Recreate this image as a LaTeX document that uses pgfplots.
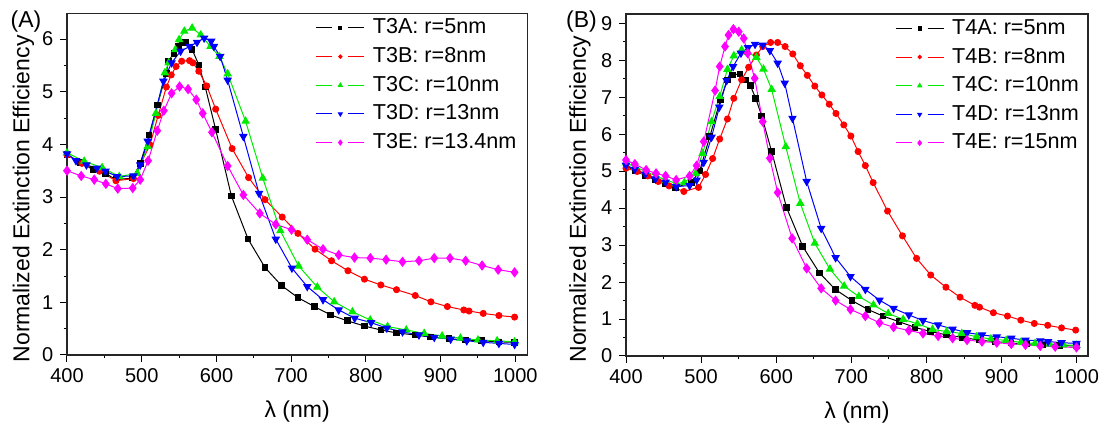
\documentclass[border=0pt]{standalone}
\usepackage{pgfplots}
\pgfplotsset{compat=1.18}
\usepackage{fontspec}
\setmainfont{Liberation Sans}
\definecolor{cblack}{RGB}{0,0,0}
\definecolor{cred}{RGB}{255,0,0}
\definecolor{cgreen}{RGB}{0,235,0}
\definecolor{cblue}{RGB}{0,0,255}
\definecolor{cmag}{RGB}{255,0,255}
\begin{document}
\begin{tikzpicture}
\useasboundingbox (0pt,0pt) rectangle (552.5pt,213.5pt);
\pgfplotsset{
  myaxis/.style={
    scale only axis, anchor=south west,
    xmin=400, ymin=0,
    xtick={400,500,...,1000},
    minor x tick num=1, minor y tick num=1,
    xtick pos=bottom, ytick pos=left,
    tick align=outside,
    major tick length=3.3pt, minor tick length=1.7pt,
    tick style={black, line width=0.5pt},
    axis line style={black!85, line width=0.6pt},
    ticklabel style={font=\fontsize{10}{12}\selectfont},
    /pgf/number format/assume math mode=true,
    /pgf/number format/1000 sep={},
    xlabel={λ (nm)}, ylabel={Normalized Extinction Efficiency},
    label style={font=\fontsize{11.5}{13}\selectfont},
    xlabel style={at={(axis description cs:0.5,-0.166)}, anchor=center},
    every axis plot/.append style={line width=0.5pt, mark options={solid}},
    legend style={draw=none, fill=none, font=\fontsize{10.8}{13}\selectfont,
      anchor=north east, inner sep=0pt, row sep=5.3pt,
      nodes={inner sep=0pt},
      /tikz/every odd column/.append style={column sep=4pt}},
    legend cell align=left,
    legend image code/.code={%
      \draw[##1, mark=none] (0pt,0pt) -- (8pt,0pt);
      \draw[##1, mark=none] (16pt,0pt) -- (24pt,0pt);
      \draw[##1, only marks, every mark/.append style={scale=0.55}] plot coordinates {(12pt,0pt)};},
  },
  sA/.style={cblack, mark=square*, mark size=1.4pt},
  sB/.style={cred, mark=*, mark size=1.5pt},
  sC/.style={cgreen, mark=triangle*, mark size=2pt},
  sD/.style={cblue, mark=triangle*, mark size=2pt, mark options={rotate=180}},
  sE/.style={cmag, mark=diamond*, mark size=2.2pt},
}
\begin{axis}[myaxis, at={(33.5pt,36pt)}, width=230.15pt, height=170.85pt,
  xmax=1016, ymax=6.49, ytick={0,1,...,6},
  ylabel style={at={(axis description cs:-0.0945,0.457)}, anchor=center},
  legend style={at={(axis description cs:0.977,0.985)}}]
\addplot[sA] coordinates {(400,3.81)(417.8,3.66)(435,3.52)(451.5,3.45)(465.5,3.33)(488,3.36)(498,3.64)(510,4.18)(521,4.75)(533,5.35)(535.6,5.58)(543,5.73)(549,5.86)(554,5.93)(559,5.94)(567.5,5.80)(576.4,5.51)(585,5.09)(599,4.28)(620,3.02)(642.4,2.20)(665,1.66)(687,1.32)(709,1.09)(731,0.92)(753,0.76)(775,0.65)(798,0.55)(820,0.475)(841,0.42)(865.7,0.38)(886.7,0.34)(911,0.31)(933.5,0.285)(954.6,0.27)(978,0.25)(999,0.24)};
\addlegendentry{T3A: r=5nm}
\addplot[sB] coordinates {(400,3.80)(420,3.64)(443.5,3.49)(465.5,3.31)(489,3.35)(511,3.99)(522,4.55)(533,5.09)(539.5,5.32)(546,5.48)(553.5,5.58)(564,5.59)(568.5,5.55)(576.4,5.39)(587,5.11)(599,4.67)(621,3.92)(643,3.37)(665,2.95)(688,2.62)(709,2.31)(732,2.01)(754,1.79)(776,1.60)(798,1.44)(820,1.33)(841,1.24)(866,1.13)(887,1.01)(909,0.92)(931,0.855)(938,0.835)(957,0.79)(978,0.75)(999,0.72)};
\addlegendentry{T3B: r=8nm}
\addplot[sC] coordinates {(400,3.84)(423,3.68)(447,3.56)(470,3.39)(494,3.45)(508,3.96)(519,4.59)(531,5.36)(536,5.55)(545,5.80)(550,5.99)(557,6.15)(567.5,6.21)(579,6.08)(592,5.86)(604,5.67)(615,5.34)(639,4.44)(662,3.36)(685.5,2.36)(710,1.69)(735,1.29)(757.6,1.01)(782,0.82)(805.8,0.665)(829,0.54)(854,0.475)(878,0.41)(902,0.36)(926.5,0.32)(950,0.285)(975.6,0.27)(999,0.25)};
\addlegendentry{T3C: r=10nm}
\addplot[sD] coordinates {(400,3.82)(412,3.69)(426,3.61)(440,3.55)(451.5,3.49)(467,3.39)(489,3.40)(498,3.61)(508,4.06)(529,5.20)(540,5.55)(552,5.77)(564,5.86)(574,5.94)(583.5,6.02)(593,5.96)(596.6,5.86)(605,5.67)(615,5.22)(636,4.15)(657,3.07)(679.4,2.20)(701,1.65)(721.5,1.30)(742.6,1.05)(763.6,0.855)(785,0.70)(807,0.615)(828,0.51)(849,0.44)(871,0.38)(891.5,0.335)(913.4,0.30)(935,0.27)(957,0.24)(978,0.22)(999,0.20)};
\addlegendentry{T3D: r=13nm}
\addplot[sE] coordinates {(400,3.50)(419,3.40)(436.5,3.33)(452,3.25)(468,3.16)(488,3.17)(498,3.33)(508.6,3.69)(520.8,4.26)(529.6,4.64)(540,4.97)(550.7,5.10)(562,5.05)(573,4.85)(581.6,4.59)(594,4.23)(615,3.59)(636,3.04)(658,2.69)(679.4,2.48)(700.5,2.38)(721.5,2.19)(742.6,2.01)(763.6,1.90)(784.7,1.85)(806,1.84)(827,1.81)(849,1.77)(871,1.79)(891.4,1.84)(912.5,1.84)(933.5,1.79)(955.5,1.70)(977,1.62)(999,1.57)};
\addlegendentry{T3E: r=13.4nm}
\end{axis}
\node[font=\fontsize{11.5}{13}\selectfont] at (13pt,202.5pt) {(A)};
\begin{axis}[myaxis, at={(313pt,35.5pt)}, width=231pt, height=171pt,
  xmax=1015, ymax=9.25, ytick={0,1,...,9},
  ylabel style={at={(axis description cs:-0.0996,0.459)}, anchor=center},
  legend style={at={(axis description cs:0.981,0.985)}}]
\addplot[sA] coordinates {(400,5.14)(412.7,5.01)(425.9,4.88)(438.6,4.76)(451.8,4.67)(465.9,4.56)(487,4.69)(498,5.0)(511.5,5.93)(525.6,6.92)(535,7.47)(542,7.60)(551.5,7.63)(559.5,7.47)(565.6,7.31)(572.7,6.97)(580.7,6.49)(593.9,5.53)(613.6,4.02)(635.3,2.96)(657.4,2.25)(678.6,1.80)(700.7,1.50)(721.9,1.26)(742,1.08)(763.3,0.93)(784.5,0.775)(805.6,0.66)(826.8,0.57)(848,0.50)(870,0.43)(891.3,0.39)(912.5,0.35)(934,0.325)(955.3,0.30)(977.4,0.285)(999.6,0.27)};
\addlegendentry{T4A: r=5nm}
\addplot[sB] coordinates {(400,5.08)(415,4.99)(429,4.87)(443,4.72)(457.4,4.60)(477,4.45)(496.5,4.56)(505.9,4.91)(515.3,5.34)(524.7,5.87)(535,6.41)(543.5,6.97)(553.9,7.47)(563.3,7.81)(573.6,8.14)(582,8.37)(592.5,8.48)(601.9,8.48)(611.8,8.37)(622,8.17)(632,7.85)(641.4,7.59)(651.3,7.30)(660.7,7.06)(670.6,6.81)(679.5,6.56)(689.9,6.25)(699.3,5.95)(709,5.53)(718.6,5.15)(729,4.69)(748.2,3.92)(768,3.25)(786.8,2.64)(805.6,2.19)(825.9,1.86)(844.7,1.59)(864.4,1.37)(870.6,1.32)(889,1.17)(907.8,1.08)(925.6,0.97)(943.5,0.88)(961.4,0.83)(979.8,0.76)(998.6,0.70)};
\addlegendentry{T4B: r=8nm}
\addplot[sC] coordinates {(400,5.22)(411.8,5.12)(425.9,4.99)(440,4.87)(452.7,4.76)(466.8,4.67)(477.6,4.69)(492.7,4.94)(502,5.48)(513.9,6.34)(524.7,7.02)(535,7.75)(543.5,8.12)(553.9,8.28)(562.4,8.21)(573.6,8.08)(583,7.76)(593.9,7.21)(612.7,5.66)(632,4.13)(651.3,3.05)(671.5,2.35)(690.4,1.89)(710,1.61)(729.4,1.38)(749,1.15)(769,0.99)(787.8,0.87)(808,0.72)(826.8,0.66)(847,0.61)(866.8,0.52)(885.7,0.46)(905.9,0.42)(925.6,0.37)(944.5,0.34)(964.2,0.32)(982,0.30)(999.6,0.29)};
\addlegendentry{T4C: r=10nm}
\addplot[sD] coordinates {(400,5.16)(411.8,5.05)(425.9,4.92)(439,4.79)(452.7,4.70)(466.8,4.58)(484.7,4.61)(494,4.76)(503.5,5.24)(513.9,5.92)(524.2,6.73)(534,7.45)(542.6,7.83)(553,8.19)(562.4,8.34)(571.8,8.43)(582,8.41)(591.5,8.26)(601.9,7.92)(611.3,7.38)(621.6,6.43)(640.5,4.72)(659.8,3.45)(679,2.66)(698.8,2.15)(718.6,1.80)(737.4,1.51)(756.2,1.29)(776.5,1.11)(795.3,0.96)(815.5,0.84)(834.8,0.73)(854,0.63)(873.9,0.57)(893.6,0.52)(912.9,0.48)(931.8,0.43)(951.5,0.41)(961.9,0.39)(979.8,0.36)(999.6,0.34)};
\addlegendentry{T4D: r=13nm}
\addplot[sE] coordinates {(400,5.30)(411.8,5.19)(426.8,5.03)(440,4.94)(452.7,4.87)(466.8,4.76)(484.7,4.87)(494,5.15)(503.5,5.80)(518.6,7.18)(524.7,7.83)(531.8,8.37)(536.5,8.68)(543,8.84)(550.1,8.77)(556.7,8.59)(561.9,8.19)(571.3,7.51)(582,6.34)(591.5,5.35)(601.9,4.42)(621.2,3.18)(640.5,2.37)(659.8,1.83)(679,1.50)(698.8,1.26)(718.6,1.08)(737.4,0.90)(756.2,0.78)(776.5,0.69)(795.3,0.61)(815.5,0.54)(834.8,0.48)(854,0.43)(873.9,0.39)(893.6,0.36)(912.9,0.325)(931.8,0.30)(951.5,0.27)(971.3,0.25)(999.6,0.23)};
\addlegendentry{T4E: r=15nm}
\end{axis}
\node[font=\fontsize{11.5}{13}\selectfont] at (290.75pt,202.5pt) {(B)};
\end{tikzpicture}
\end{document}
